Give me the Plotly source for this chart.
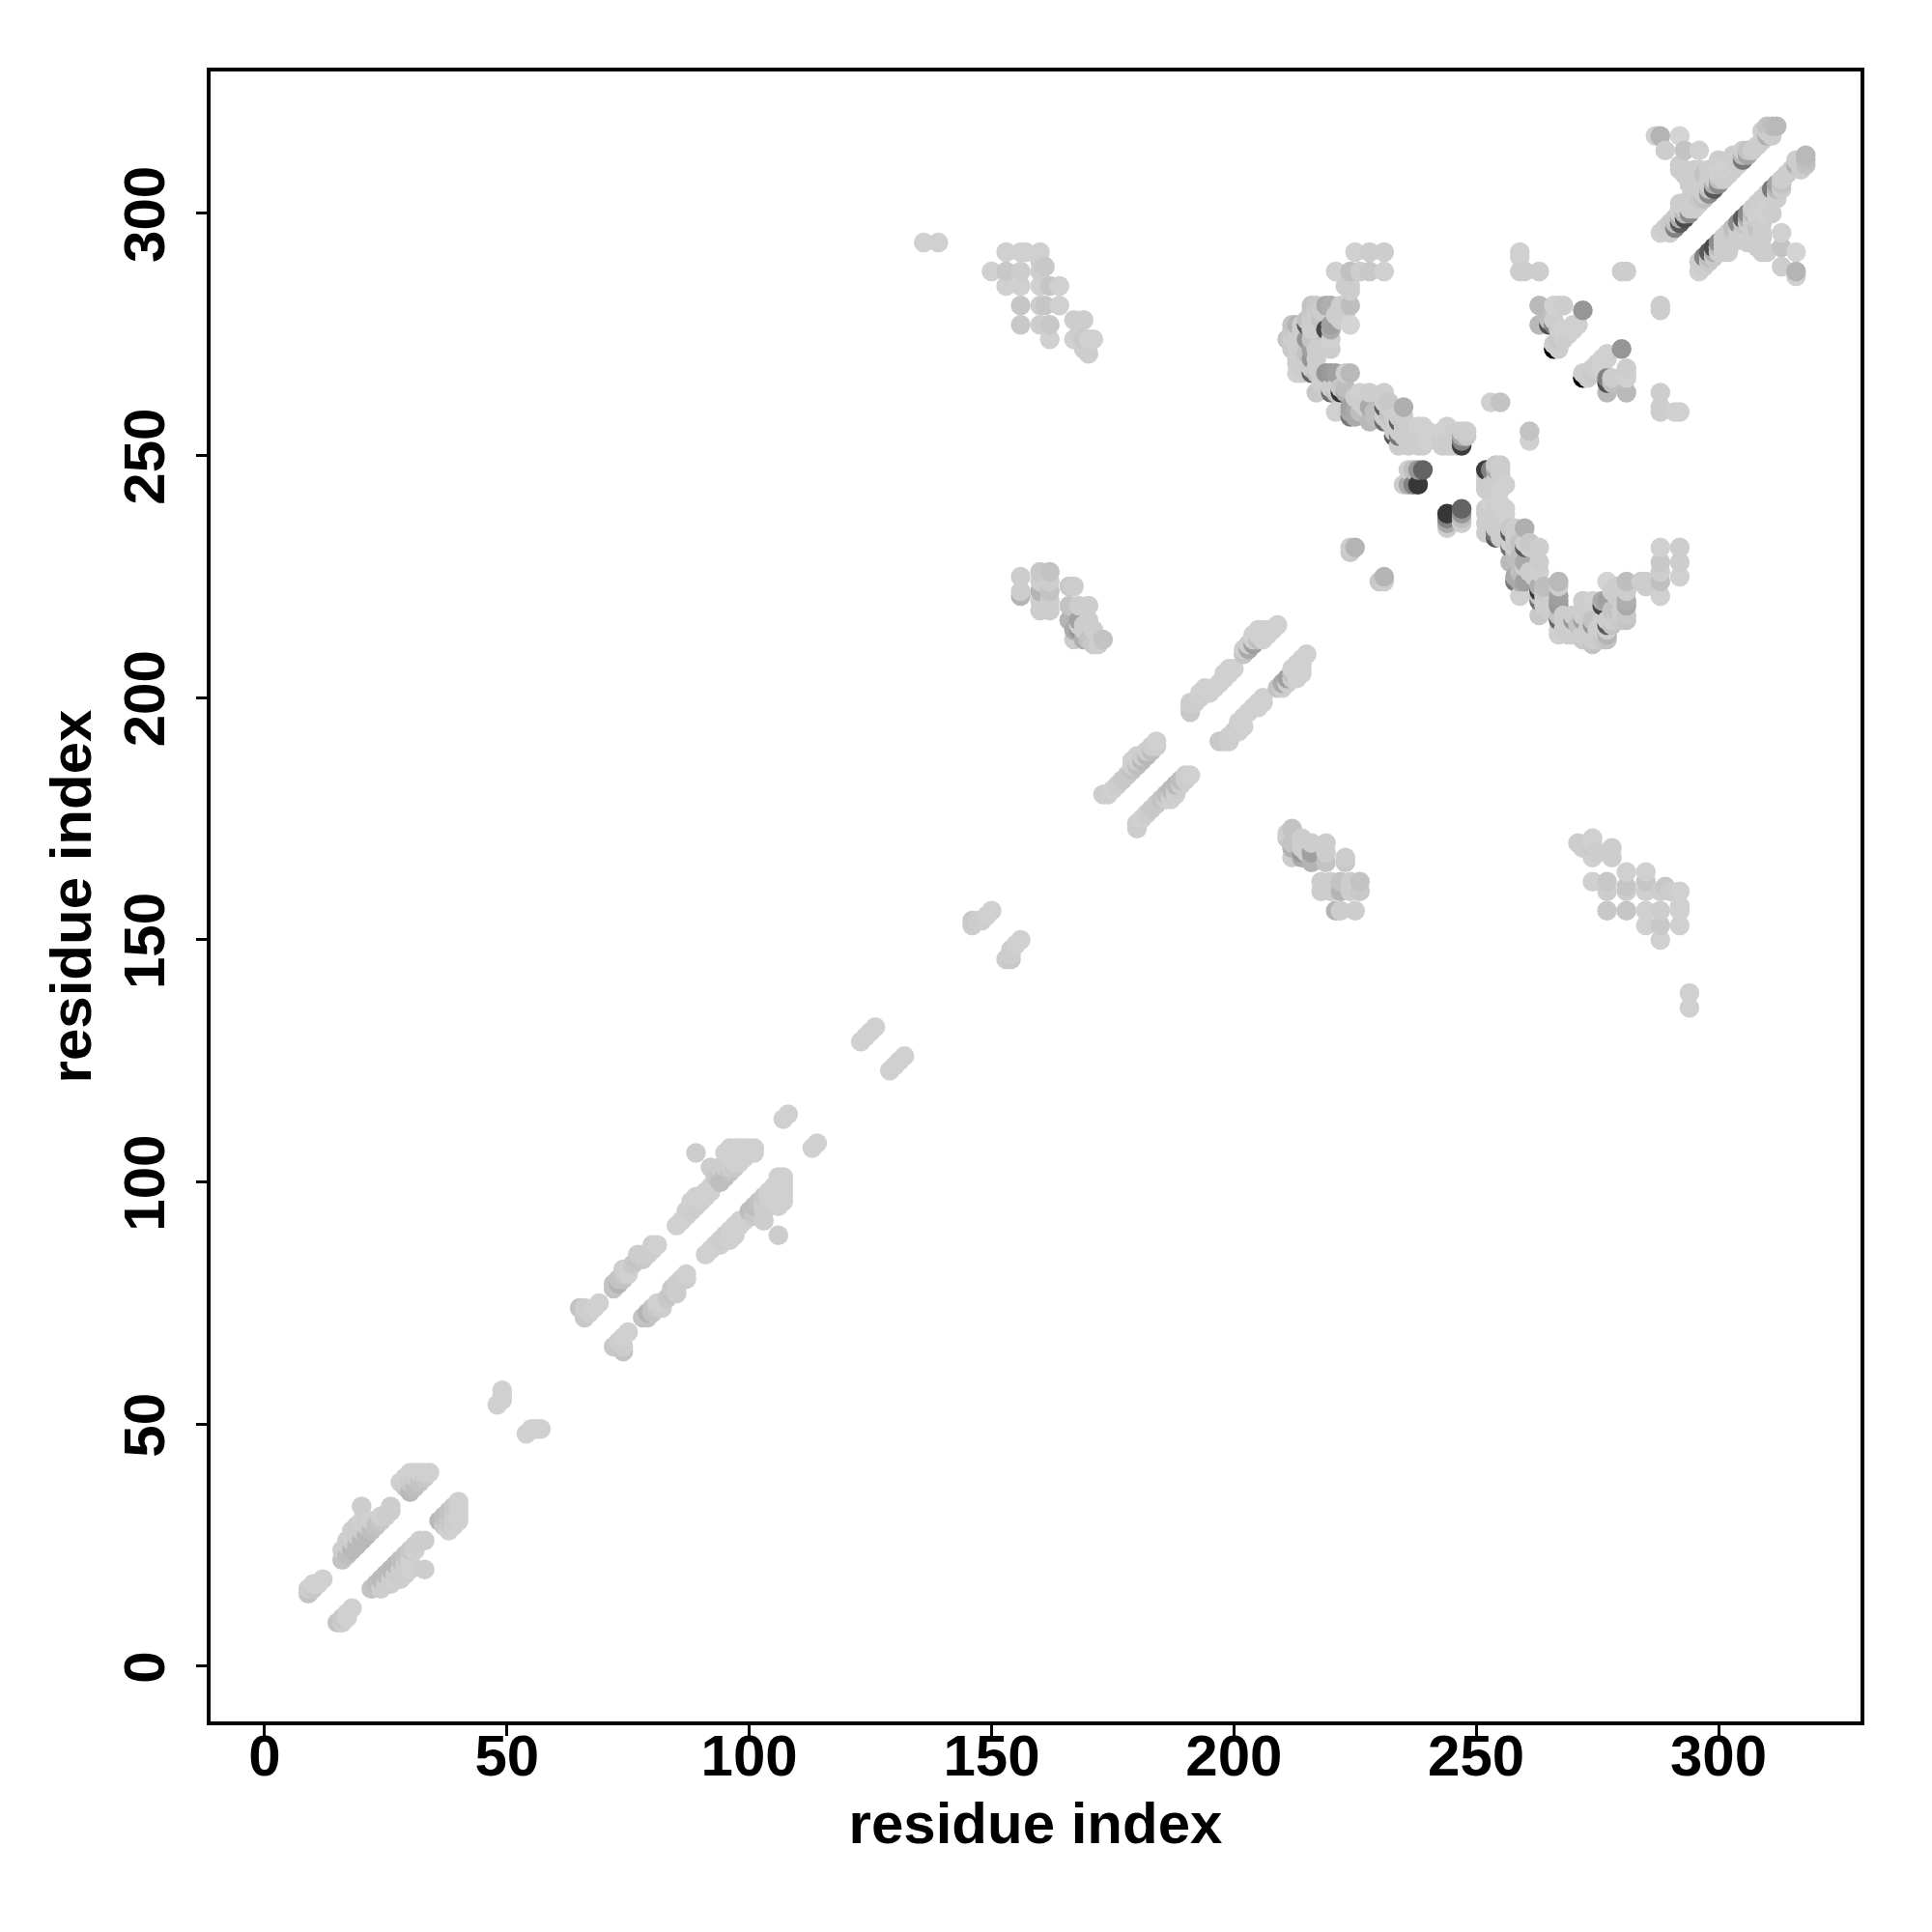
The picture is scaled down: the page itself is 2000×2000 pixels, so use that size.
import plotly.graph_objects as go

# contacts: (residue i, residue j, grey level); the map is symmetric
helix_a = [
 (9,15,195),(10,16,200),(11,17,208),(12,18,208),(9,16,205),(10,17,208),
 (16,22,195),(17,23,190),(18,24,185),(19,25,185),(20,26,185),(21,27,185),(22,28,190),(23,29,195),(24,30,200),(25,31,205),
 (16,24,205),(17,25,205),(18,26,205),(19,27,205),(20,28,205),(21,29,205),(18,28,205),(19,29,205),(20,30,208),(22,30,208),(24,31,208),
 (20,33,205),(26,33,205),(26,32,205),(17,26,205),(18,27,208),
 (30,36,185),(31,37,190),(32,38,195),(33,39,200),(34,40,208),(29,37,200),(30,38,200),(31,39,205),(32,40,208),
 (29,38,205),(30,39,205),(31,40,208),(29,39,208),(30,40,208),(33,40,208),(28,38,208),
]
helix_b = [
 (48,54,208),(49,55,208),(49,56,208),(49,57,208),
 (65,74,195),(66,72,200),(66,74,205),(67,73,205),(68,74,208),(69,75,208),
 (72,78,195),(72,79,195),(73,79,180),(73,80,195),(74,80,195),(74,81,200),(75,81,208),(75,82,208),(74,82,205),
 (76,83,200),(77,84,195),(77,85,205),(78,84,200),(78,85,205),(79,85,205),(80,86,205),(80,87,205),(81,87,208),
 (85,91,208),(86,92,208),(87,93,208),(87,94,208),(88,94,205),(88,95,205),(89,95,205),(89,96,205),(90,96,208),(90,97,208),(91,97,208),(88,96,208),(89,97,208),(91,98,208),(92,98,208),(92,99,208),
 (89,106,205),(92,103,205),(94,100,190),(95,101,190),(96,102,195),(97,103,200),(93,101,200),(94,103,205),(95,103,205),(95,104,205),(96,104,205),
 (96,105,208),(97,105,208),(97,106,208),(98,106,208),(98,107,208),(99,107,208),(100,107,208),(101,107,208),(96,107,208),(97,107,208),(95,106,208),
 (100,106,208),(99,105,208),(98,104,208),(97,104,208),(96,103,205),(99,106,208),(101,106,208),
 (107,113,208),(108,114,208),(123,129,208),(124,130,208),(125,131,208),(126,132,208),
 (146,153,205),(146,154,200),(147,154,205),(148,154,205),(149,155,208),(150,156,208),
 (136,294,208),(139,294,208),
]
helix_c = [
 (173,180,205),(174,180,205),(175,181,208),(176,182,205),(177,183,200),(178,184,200),(179,185,195),(180,186,190),(181,187,185),(182,188,185),(183,189,190),(184,190,205),
 (179,186,205),(180,187,205),(181,188,205),(182,189,205),(183,190,205),(184,191,208),(180,188,208),(179,187,208),
 (191,197,200),(191,198,200),(191,199,205),(192,199,205),(193,200,205),(194,201,205),(195,201,208),(196,202,208),(197,203,208),(198,204,208),(199,205,208),(200,206,208),(193,201,208),(194,202,208),(198,205,208),(199,206,208),
 (202,209,195),(203,210,170),(204,211,160),(205,212,190),(206,212,208),(207,213,208),(208,214,208),(209,215,208),(202,210,205),(203,211,205),(204,212,205),(205,213,208),(206,214,208),(207,214,208),(205,214,208),(204,213,208),
]
blocks = [
 (153,292,208),(156,292,208),(157,292,208),(160,292,208),(150,288,208),(153,288,200),(156,288,205),(160,288,205),(160,290,205),(161,289,200),
 (153,285,208),(156,285,208),(160,285,208),(162,285,198),(164,285,208),(156,281,198),(160,281,205),(161,281,198),(164,281,208),
 (156,277,200),(160,277,205),(162,277,200),(162,274,208),(167,278,205),(169,278,205),(167,274,208),(168,275,205),(169,274,200),(169,272,205),(170,271,205),(170,274,208),(171,274,208),
 (156,225,205),(156,221,180),(156,222,205),(160,226,200),(162,226,195),(160,224,205),(162,224,205),(160,222,180),(162,222,195),(160,220,205),(162,220,205),(160,218,205),(162,218,205),
 (166,223,200),(167,223,205),(166,219,195),(168,219,205),(170,219,205),(166,216,180),(168,216,160),(170,216,205),(167,214,170),(168,214,150),(169,214,205),(171,214,205),(168,215,205),(169,215,205),
 (167,212,205),(169,212,175),(170,212,195),(171,211,200),(172,211,205),(173,212,195),
]
s_curve = [
 (225,292,208),(228,292,205),(231,292,205),(221,288,208),(224,288,192),(226,288,205),(228,288,200),(231,288,208),(223,285,205),(224,285,205),(224,284,205),
 (216,281,195),(217,281,200),(219,281,170),(220,281,175),(222,281,205),(224,281,190),(213,277,180),(212,277,195),(215,277,90),(216,276,205),(219,276,70),(220,277,160),(224,277,212),
 (211,274,195),(212,274,205),(215,274,150),(216,274,195),(220,274,208),(212,272,200),(213,272,205),(216,272,160),(217,272,205),(220,272,205),
 (213,270,205),(214,270,205),(216,270,150),(217,270,205),(213,267,208),(214,267,208),(216,267,100),(217,267,195),(219,267,150),(220,267,155),(221,267,160),(223,267,205),(224,267,185),
 (217,263,200),(220,263,110),(222,263,50),(223,263,175),(226,263,208),(228,263,205),(231,263,205),(221,259,208),(224,260,160),(228,260,170),(231,260,90),(232,259,195),(235,260,175),
 (224,258,120),(228,257,185),(231,257,110),(234,257,90),(235,257,200),(238,256,208),(239,256,208),(233,254,90),(234,254,120),(236,254,205),(238,254,205),(239,254,205),(234,252,205),(238,252,205),(239,252,205),
 (243,255,208),(247,255,205),(248,254,200),(247,254,170),(247,253,130),(247,252,60),(243,254,205),(244,253,205),(245,252,205),(243,252,205),
 (253,261,208),(255,261,195),(224,231,205),(225,231,180),(224,230,200),
 (236,247,205),(237,247,190),(238,247,150),(239,247,100),(235,244,205),(236,244,170),(237,244,130),(238,244,55),
]
s_curve_fill = [
 (216,278,205),(216,277,205),(215,278,195),(220,276,170),(217,268,205),(216,268,205),(221,264,205),(220,264,205),(221,263,195),
 (223,264,190),(222,264,200),(232,261,200),(231,261,205),(232,260,205),(225,259,170),(224,259,170),(225,258,170),(232,258,200),(231,258,205),(232,257,205),
 (235,258,205),(234,258,205),(234,255,205),(233,255,205),(235,255,205),(235,254,205),(266,278,205),(265,278,190),(267,272,205),
 (212,276,200),(212,275,205),(213,275,205),(214,275,205),(214,273,205),(213,269,205),(214,268,205),(215,271,195),(218,266,205),(219,265,205),(218,265,205),(219,264,205),
 (218,280,205),(218,279,195),(218,278,195),(217,279,205),(217,278,205),(214,276,205),(214,277,205),(216,280,200),(217,280,205),(222,280,205),(223,279,205),(222,278,205),(221,279,205),
 (225,262,205),(226,261,205),(227,260,205),(226,259,190),(229,259,190),(229,258,190),(230,258,190),(233,258,205),(235,256,205),(236,256,205),(237,255,205),(237,253,205),(236,252,205),
 (240,253,208),(240,255,208),(244,256,208),(245,254,205),(243,253,205),(244,252,205),(246,252,205),(246,255,205),(248,255,205),
]
cluster_e = [
 (259,292,208),(259,291,208),(259,288,205),(260,288,205),(263,288,205),(280,288,205),(281,288,205),(263,281,185),(266,281,208),(267,281,208),(268,281,205),(272,280,150),
 (263,277,185),(265,277,80),(266,277,130),(267,276,205),(268,276,208),(269,276,208),(270,276,208),(270,277,208),(271,277,208),(268,275,205),(267,274,200),(266,273,205),(266,272,0),(267,273,205),(268,274,205),(269,275,205),
]
cluster_f = [
 (288,316,180),(287,316,208),(292,316,212),(289,313,205),(293,313,195),(296,313,208),(292,309,205),(295,309,205),(300,311,205),
 (288,296,208),(290,296,205),(289,297,205),(290,298,200),(291,299,200),(292,300,205),(293,300,205),(292,302,205),
 (291,297,130),(292,298,90),(293,299,75),(294,300,140),(295,301,205),(296,302,205),(297,303,190),(298,304,140),(299,305,90),(300,306,140),(301,307,205),(302,308,205),(303,309,205),(304,310,205),(305,311,120),(306,312,165),(307,313,205),(308,314,205),(309,315,205),(310,316,175),(311,317,205),(312,318,185),(311,316,205),
 (310,318,195),(311,318,190),(309,317,205),(310,317,205),
 (293,301,205),(294,303,205),(295,304,205),(296,305,205),(295,302,205),(296,303,200),(297,304,205),(294,306,205),(293,308,205),(292,310,205),(295,307,205),(296,307,205),(297,308,195),(298,309,205),(296,309,205),(298,306,205),(299,307,205),(300,308,208),(301,309,208),(300,310,208),(302,309,208),(303,310,208),(303,312,205),
 (291,298,190),(292,299,175),(293,300,185),(294,301,205),(297,304,205),(298,305,195),(299,306,175),(300,307,190),(304,311,205),(305,312,185),(306,313,195),(292,301,205),(293,302,205),(298,307,205),(299,308,205),(305,313,205),(304,312,205),
]

tick_values = [0, 50, 100, 150, 200, 250, 300]
axis_title = "residue index"

contacts = helix_a + helix_b + helix_c + blocks + s_curve + s_curve_fill + cluster_e + cluster_f
points = contacts + [(j, i, g) for i, j, g in contacts]
points.sort(key=lambda p: (p[0], p[1]))
x = [p[0] for p in points]
y = [p[1] for p in points]
colors = [f"rgb({p[2]},{p[2]},{p[2]})" for p in points]

fig = go.Figure(go.Scatter(x=x, y=y, mode="markers", marker=dict(size=20.5, color=colors, line=dict(width=0)), showlegend=False))
title_font = dict(family="Liberation Sans", size=60, color="black", weight="bold")
common = dict(tickmode="array", tickvals=tick_values, ticks="outside", ticklen=11, tickwidth=3, tickcolor="black",
              showline=True, linecolor="black", linewidth=3.5, mirror=True, showgrid=False, zeroline=False,
              tickfont=dict(family="Liberation Sans", size=60, color="black", weight="bold"))
fig.update_xaxes(range=[-11.16, 329.3], ticklabelstandoff=-31, automargin=True, title=dict(text=axis_title, font=title_font, standoff=17), **common)
fig.update_yaxes(range=[-11.37, 329.3], tickangle=-90, ticklabelstandoff=9, ticklabelshift=10, title=dict(text=axis_title, font=title_font, standoff=3), **common)
fig.update_layout(width=2000, height=2000, autosize=False, paper_bgcolor="white", plot_bgcolor="white",
                  margin=dict(l=210, r=82, t=66, b=226, autoexpand=False))
fig.write_html("out.html")
